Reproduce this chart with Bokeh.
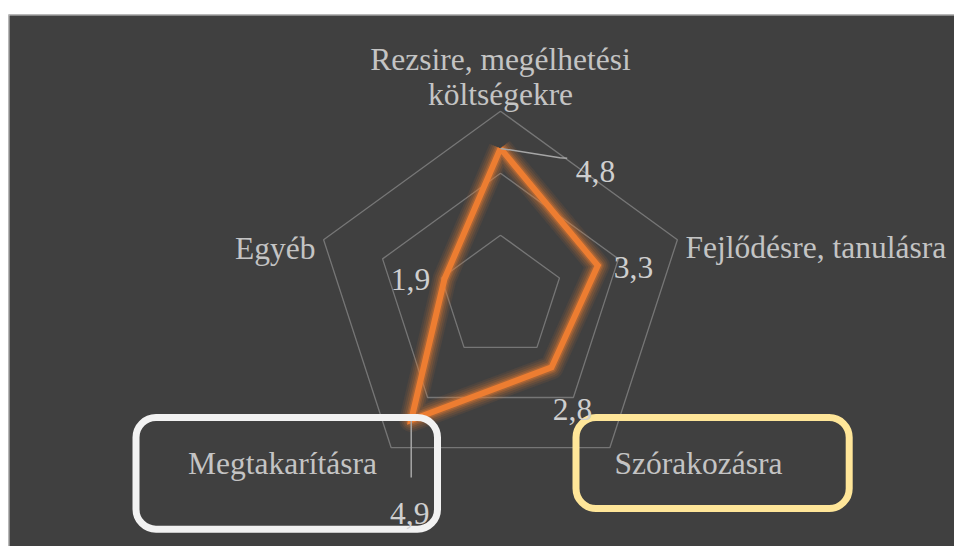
import numpy as np
from bokeh.plotting import figure
from bokeh.models import Range1d, Label, Span
from bokeh.embed import file_html
from bokeh.resources import INLINE

# ---- data ----
categories = ["Rezsire, megélhetési\nköltségekre", "Fejlődésre, tanulásra",
              "Szórakozásra", "Megtakarításra", "Egyéb"]
values = [4.8, 3.3, 2.8, 4.9, 1.9]
value_labels = ["4,8", "3,3", "2,8", "4,9", "1,9"]
rings = [2, 4, 6]

# ---- layout helpers (page pixels -> data units) ----
W, H = 954, 546
LEFT, TOP = 8, 14
CX, CY, S = 500.0, 296.7, 31.0          # centre on page, pixels per unit

def px(X, Y):
    return ((X - CX) / S, (CY - Y) / S)

x0, _ = px(LEFT, 0)
x1, _ = px(W, 0)
_, y0 = px(0, TOP)
_, y1 = px(0, H)

p = figure(width=W, height=H, output_backend="svg", toolbar_location=None,
           x_range=Range1d(x0, x1), y_range=Range1d(y1, y0),
           min_border_left=LEFT, min_border_right=0, min_border_bottom=0,
           min_border_top=TOP)
p.background_fill_color = "#404040"
p.border_fill_color = "white"
p.outline_line_color = None
p.axis.visible = False
p.grid.visible = False

# light edge at top and left of the dark area
p.add_layout(Span(location=y0, dimension="width", line_color="#d0d0d0", line_width=2))
p.add_layout(Span(location=x0, dimension="height", line_color="#d0d0d0", line_width=2))

n = len(categories)
ang = np.pi / 2 - np.arange(n) * 2 * np.pi / n

# rings
for r in rings:
    xs = list(r * np.cos(ang)) + [r * np.cos(ang[0])]
    ys = list(r * np.sin(ang)) + [r * np.sin(ang[0])]
    p.line(xs, ys, line_color="#767676", line_width=1.3)

# series
v = np.array(values)
sx = list(v * np.cos(ang)) + [v[0] * np.cos(ang[0])]
sy = list(v * np.sin(ang)) + [v[0] * np.sin(ang[0])]
for w, a in [(24, 0.08), (20, 0.11), (16, 0.15), (12, 0.22), (9, 0.3)]:
    p.line(sx, sy, line_color="#ED7D31", line_width=w, line_alpha=a, line_join="round")
p.line(sx, sy, line_color="#ED7D31", line_width=6, line_join="miter")

# leader lines
lx = v * np.cos(ang)
ly = v * np.sin(ang)
a1 = px(559.3, 157.3)
a2 = px(566.7, 157.7)
p.line([lx[0], a1[0], a2[0]], [ly[0], a1[1], a2[1]], line_color="#a6a6a6", line_width=1.5)
b1 = px(410.0, 477.0)
p.line([lx[3], lx[3]], [ly[3], b1[1]], line_color="#a6a6a6", line_width=1.5)

FONT = "Liberation Serif"
CAT_COLOR = "#c4c4c4"
VAL_COLOR = "#cfcfcf"

def lab(text, X, Y, align, color, size="31.5px"):
    x, y = px(X, Y)
    p.add_layout(Label(x=x, y=y, text=text, text_align=align,
                       text_baseline="alphabetic", text_font=FONT,
                       text_font_size=size, text_color=color))

# category labels
l1, l2 = categories[0].split("\n")
lab(l1, 500, 59.3, "center", CAT_COLOR)
lab(l2, 500, 94, "center", CAT_COLOR)
lab(categories[1], 685, 247.3, "left", CAT_COLOR)
lab(categories[2], 698, 463.3, "center", CAT_COLOR)
lab(categories[3], 282, 463.3, "center", CAT_COLOR)
lab(categories[4], 315, 248.3, "right", CAT_COLOR)

# value labels
val_pos = [(595, 170.7), (633, 266.5), (572, 409), (409.3, 513), (410, 279)]
for t, (X, Y) in zip(value_labels, val_pos):
    lab(t, X, Y, "center", VAL_COLOR)

# highlight boxes
def box(L, T, R, B, color):
    l, t = px(L, T)
    r, b = px(R, B)
    p.quad(left=[l], right=[r], top=[t], bottom=[b], fill_alpha=0,
           line_color=color, line_width=7, border_radius=20)

box(135.5, 417, 437, 528.7, "#f2f2f2")
box(575.5, 417, 848.7, 508, "#FFE699")

open("out.html", "w").write(file_html(p, INLINE))
